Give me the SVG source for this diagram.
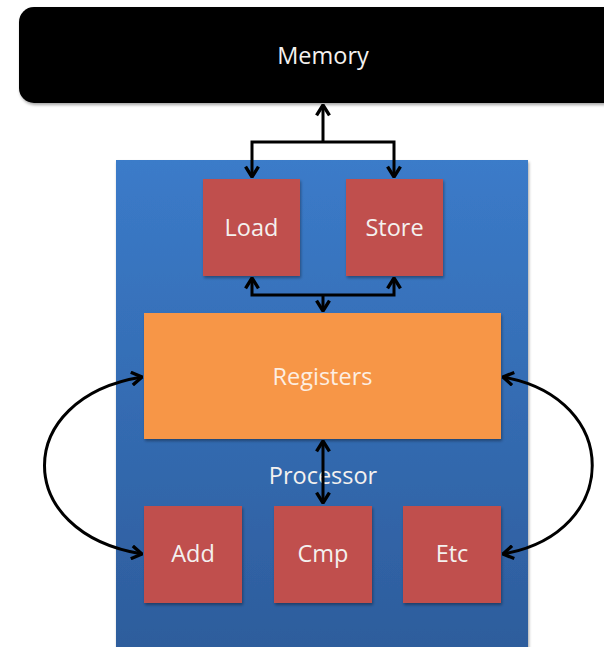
<svg xmlns="http://www.w3.org/2000/svg" width="604" height="647" viewBox="0 0 604 647">
  <style>
    .lbl { font-family: "Open Sans", "Liberation Sans", sans-serif; font-size: 23.5px; fill: #f4f1ef; text-anchor: middle; dominant-baseline: central; }
    .unit { fill: #c0504d; filter: url(#sh); }
    .conn { fill: none; stroke: #000; stroke-width: 3; }
  </style>
  <defs>
    <linearGradient id="blue" x1="0" y1="0" x2="0" y2="1">
      <stop offset="0" stop-color="#3b7bc9"/>
      <stop offset="1" stop-color="#2d5c9b"/>
    </linearGradient>
    <filter id="sh" x="-10%" y="-10%" width="125%" height="125%">
      <feDropShadow dx="1" dy="2" stdDeviation="1.5" flood-color="#000" flood-opacity="0.35"/>
    </filter>
    <marker id="ah" viewBox="0 0 10 12" refX="9" refY="6" markerWidth="4.3" markerHeight="5.2" orient="auto-start-reverse" markerUnits="strokeWidth">
      <path d="M1,1 L9,6 L1,11" fill="none" stroke="#000" stroke-width="2.6" stroke-linejoin="miter"/>
    </marker>
  </defs>
  <rect width="604" height="647" fill="#ffffff"/>

  <g id="memory">
    <rect x="19" y="7" width="610" height="96" rx="15" fill="#000" filter="url(#sh)"/>
    <text class="lbl" x="323" y="55">Memory</text>
  </g>

  <g id="processor">
    <rect x="116" y="160" width="412" height="500" fill="url(#blue)" filter="url(#sh)"/>
    <text class="lbl" x="323" y="475">Processor</text>
  </g>

  <g id="load">
    <rect class="unit" x="203" y="179" width="97" height="97"/>
    <text class="lbl" x="251.5" y="227">Load</text>
  </g>
  <g id="store">
    <rect class="unit" x="346" y="179" width="97" height="97"/>
    <text class="lbl" x="394.5" y="227">Store</text>
  </g>
  <g id="registers">
    <rect x="144" y="313" width="357" height="126" fill="#f79646" filter="url(#sh)"/>
    <text class="lbl" x="322.5" y="376" style="fill:#fdeee2">Registers</text>
  </g>
  <g id="add">
    <rect class="unit" x="144" y="506" width="98" height="97"/>
    <text class="lbl" x="193" y="553">Add</text>
  </g>
  <g id="cmp">
    <rect class="unit" x="274" y="506" width="98" height="97"/>
    <text class="lbl" x="323" y="553">Cmp</text>
  </g>
  <g id="etc">
    <rect class="unit" x="403" y="506" width="98" height="97"/>
    <text class="lbl" x="452" y="553">Etc</text>
  </g>

  <g id="connectors">
    <path class="conn" d="M323,142 V105" marker-end="url(#ah)"/>
    <path class="conn" d="M252,177 V142 H394 V177" marker-start="url(#ah)" marker-end="url(#ah)"/>
    <path class="conn" d="M252,278 V295 H394 V278" marker-start="url(#ah)" marker-end="url(#ah)"/>
    <path class="conn" d="M323,295 V311" marker-end="url(#ah)"/>
    <path class="conn" d="M323,441 V503" marker-start="url(#ah)" marker-end="url(#ah)"/>
    <path class="conn" d="M142,377 C12,398 12,533 142,554" marker-start="url(#ah)" marker-end="url(#ah)"/>
    <path class="conn" d="M503,377 C622,398 622,533 503,554" marker-start="url(#ah)" marker-end="url(#ah)"/>
  </g>
</svg>
